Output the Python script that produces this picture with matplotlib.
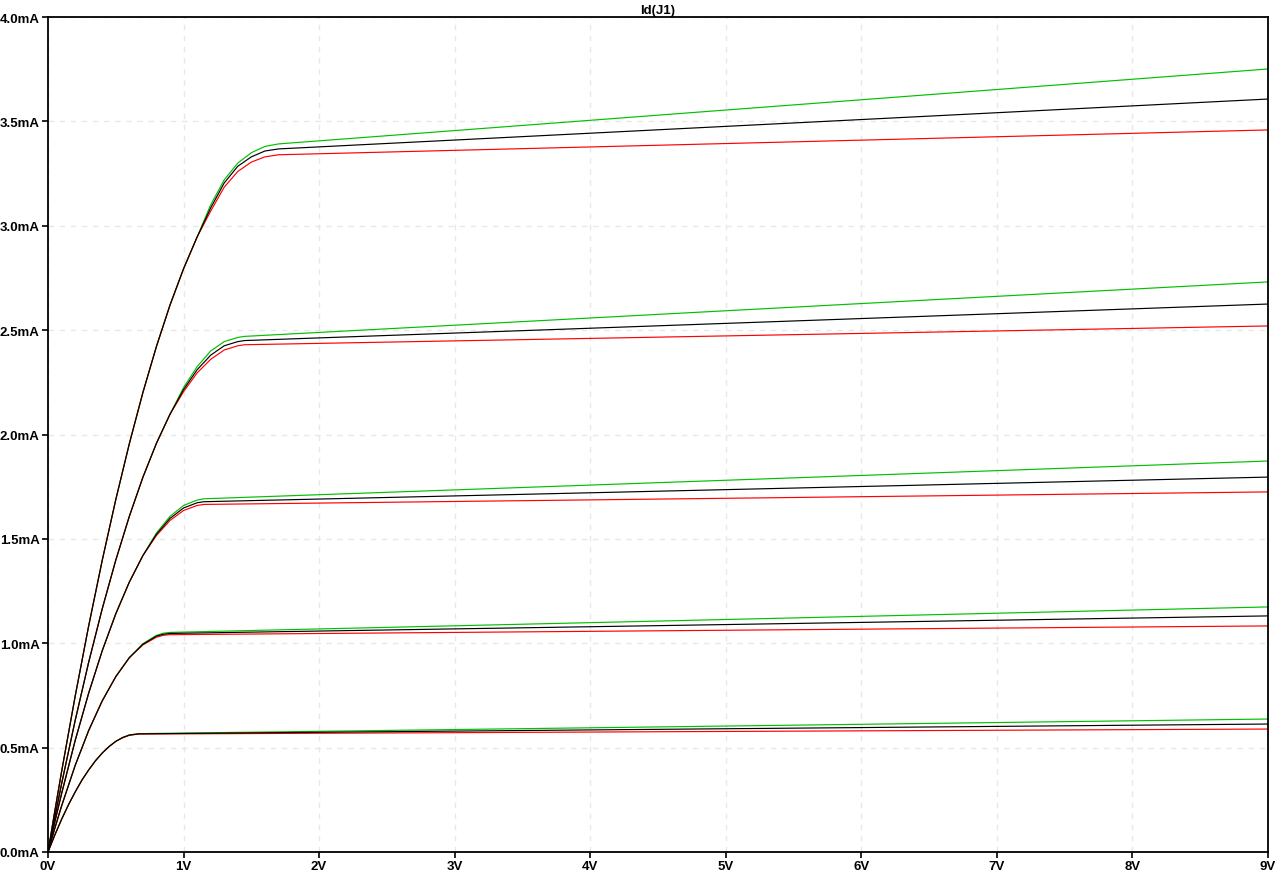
import numpy as np
from matplotlib import pyplot as plt

# Id(J1) vs Vds, five gate voltages, three model variants each (green / black / red)

# shared triode-region points for each gate step (V, mA)
rise_v_1 = [0, 0.05, 0.1, 0.15, 0.2, 0.25, 0.3, 0.35, 0.4, 0.45, 0.5]
rise_i_1 = [0, 0.081, 0.156, 0.225, 0.287, 0.344, 0.393, 0.437, 0.474, 0.505, 0.530]

rise_v_2 = [0, 0.05, 0.1, 0.2, 0.3, 0.4, 0.5, 0.6]
rise_i_2 = [0, 0.113, 0.220, 0.414, 0.582, 0.724, 0.840, 0.931]

rise_v_3 = [0, 0.05, 0.1, 0.2, 0.3, 0.4, 0.5, 0.6, 0.7]
rise_i_3 = [0, 0.143, 0.279, 0.533, 0.761, 0.964, 1.141, 1.293, 1.420]

rise_v_4 = [0, 0.05, 0.1, 0.2, 0.3, 0.4, 0.5, 0.6, 0.7, 0.8, 0.9]
rise_i_4 = [0, 0.166, 0.326, 0.629, 0.909, 1.165, 1.398, 1.608, 1.795, 1.958, 2.097]

rise_v_5 = [0, 0.05, 0.1, 0.2, 0.3, 0.4, 0.5, 0.6, 0.7, 0.8, 0.9, 1.0, 1.1]
rise_i_5 = [0, 0.195, 0.384, 0.745, 1.083, 1.397, 1.688, 1.956, 2.201, 2.422, 2.620,
            2.794, 2.946]

rise_v = [rise_v_1, rise_v_2, rise_v_3, rise_v_4, rise_v_5]
rise_i = [rise_i_1, rise_i_2, rise_i_3, rise_i_4, rise_i_5]

# knee region, where the three variants split (last point = start of saturation)
knee_v = [[0.55, 0.6, 0.67],
          [0.7, 0.8, 0.85, 0.9],
          [0.8, 0.9, 1.0, 1.1, 1.15],
          [1.0, 1.1, 1.2, 1.3, 1.4, 1.45],
          [1.2, 1.3, 1.4, 1.5, 1.6, 1.7]]

knee_green = [[0.549, 0.561, 0.567],
              [0.998, 1.038, 1.048, 1.052],
              [1.528, 1.608, 1.660, 1.686, 1.692],
              [2.225, 2.325, 2.400, 2.445, 2.465, 2.470],
              [3.100, 3.220, 3.300, 3.350, 3.380, 3.392]]
knee_black = [[0.548, 0.560, 0.566],
              [0.995, 1.034, 1.043, 1.047],
              [1.522, 1.598, 1.648, 1.673, 1.678],
              [2.215, 2.310, 2.380, 2.425, 2.445, 2.450],
              [3.085, 3.205, 3.285, 3.330, 3.358, 3.368]]
knee_red = [[0.547, 0.559, 0.565],
            [0.992, 1.029, 1.038, 1.041],
            [1.516, 1.588, 1.636, 1.660, 1.665],
            [2.205, 2.295, 2.360, 2.405, 2.425, 2.430],
            [3.070, 3.185, 3.260, 3.305, 3.330, 3.340]]

# current at the end of the sweep
vds_end = 9.0
end_green = [0.637, 1.174, 1.873, 2.731, 3.751]
end_black = [0.613, 1.131, 1.796, 2.625, 3.607]
end_red = [0.589, 1.083, 1.725, 2.520, 3.459]

x_ticks = [0, 1, 2, 3, 4, 5, 6, 7, 8, 9]
x_labels = ['0V', '1V', '2V', '3V', '4V', '5V', '6V', '7V', '8V', '9V']
y_ticks = [0, 0.5, 1.0, 1.5, 2.0, 2.5, 3.0, 3.5, 4.0]
y_labels = ['0.0mA', '0.5mA', '1.0mA', '1.5mA', '2.0mA', '2.5mA', '3.0mA', '3.5mA', '4.0mA']

plt.rcParams['font.family'] = ['Liberation Sans', 'DejaVu Sans']

fig = plt.figure(figsize=(12.76, 8.79), dpi=100)
ax = fig.add_axes([48/1276, 26/879, 1220/1276, 835/879])

variants = [
    (knee_green, end_green, '#00c000'),
    (knee_red, end_red, '#ff0000'),
    (knee_black, end_black, '#000000'),
]

for knee_i, end_i, col in variants:
    for g in range(5):
        v = list(rise_v[g]) + list(knee_v[g]) + [vds_end]
        i = list(rise_i[g]) + list(knee_i[g]) + [end_i[g]]
        ax.plot(v, i, color=col, lw=0.85, solid_joinstyle='round')

ax.set_xlim(0, 9)
ax.set_ylim(0, 4)
ax.set_xticks(x_ticks)
ax.set_xticklabels(x_labels, fontsize=9.5, fontweight='bold')
ax.set_yticks(y_ticks)
ax.set_yticklabels(y_labels, fontsize=9.5, fontweight='bold')
ax.tick_params(direction='out', length=4.5, width=1.2, pad=1.5)
ax.grid(True, color='#e8e8e8', linestyle=(0, (4, 4)), linewidth=1.0)
ax.set_axisbelow(True)
for s in ax.spines.values():
    s.set_linewidth(1.3)
ax.set_title('Id(J1)', fontsize=9.5, fontweight='bold', pad=3)

plt.savefig('out.png', dpi=100)
